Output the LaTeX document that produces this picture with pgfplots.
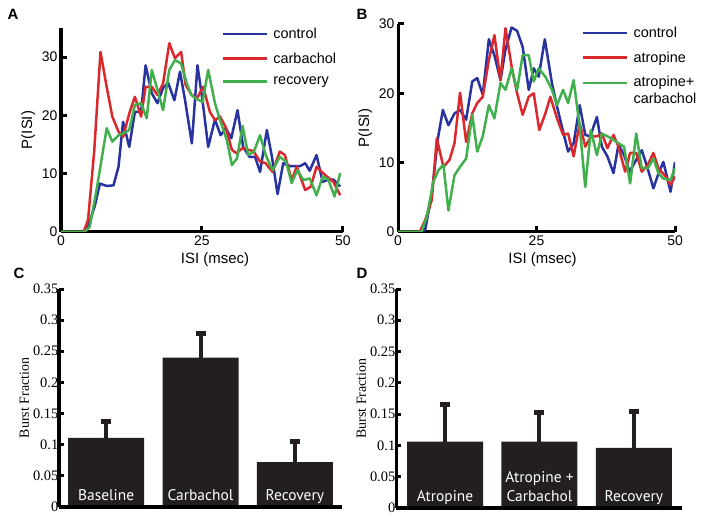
\documentclass[border=0pt]{standalone}
\usepackage{pgfplots}
\pgfplotsset{compat=1.18}
\usepackage{fontspec}
\setmainfont{Liberation Sans}
\newfontfamily\serif{Liberation Serif}
\newfontfamily\barfont{PT Sans}

\definecolor{cblue}{RGB}{40,50,160}
\definecolor{cred}{RGB}{218,40,45}
\definecolor{cgreen}{RGB}{65,175,75}
\definecolor{barblack}{RGB}{35,31,32}

\pgfplotsset{
  histo/.style={
    scale only axis,
    axis lines=left,
    axis line style={line width=3bp,-},
    xmin=0, xmax=50, ymin=0,
    xtick={0,25,50}, xticklabels={0,25,50},
    tick align=inside,
    major tick length=6bp,
    every tick/.style={black, line width=3bp},
    ticklabel style={font=\fontsize{14}{16}\selectfont},
    label style={font=\fontsize{15}{17}\selectfont},
    xlabel={ISI (msec)}, ylabel={P(ISI)},
    every axis plot/.append style={line width=2.5bp, line join=round, no marks},
    legend style={draw=none, fill=none, inner sep=0pt,
      font=\fontsize{14.5}{17}\selectfont, row sep=8.5bp, column sep=3bp,
      nodes={align=left}},
    legend cell align=left,
    legend image code/.code={\draw[#1] (0bp,0bp) -- (44bp,0bp);},
  },
  raisedlegend/.style={legend image code/.code={\draw[##1] (0bp,7.5bp) -- (44bp,7.5bp);}},
  barax/.style={
    scale only axis,
    axis lines=left,
    axis on top,
    axis line style={line width=3bp,-},
    ymin=0, ymax=0.35,
    ytick={0,0.05,0.1,0.15,0.2,0.25,0.3,0.35},
    yticklabels={0,0.05,0.1,0.15,0.2,0.25,0.3,0.35},
    xtick={1,2,3},
    tick align=inside,
    major tick length=5bp,
    every tick/.style={black, line width=3bp},
    major x tick style={draw=none},
    yticklabel style={font=\serif\fontsize{14.5}{16}\selectfont, inner sep=0.5bp},
    ylabel={Burst Fraction},
    ylabel style={font=\serif\fontsize{14}{16}\selectfont},
    xticklabel style={font=\barfont\fontsize{15.5}{17}\selectfont, text=white,
      anchor=base, yshift=11.5bp, align=center},
    ybar, bar width=76bp,
  },
  errs/.style={fill=barblack, draw=none,
    error bars/.cd, y dir=plus, y explicit,
    error bar style={line width=4bp, barblack},
    error mark options={barblack, rotate=90, line width=5bp, mark size=5bp}},
}

\begin{document}
\begin{tikzpicture}
\useasboundingbox (0,0) rectangle (704bp,518bp);

% A
\begin{axis}[histo, at={(61bp,286bp)}, anchor=south west,
  width=282bp, height=204bp, ymax=35,
  ytick={0,10,20,30}, yticklabels={0,10,20,30},
  xlabel style={xshift=13bp},
  legend style={at={(0.57,1.01)}, anchor=north west}]
\addplot[cblue] coordinates {
(0,0)(4.0,0)(4.8,0.9)(6.0,4.5)(6.9,8.3)(8.1,7.9)(9.3,8.0)(10.2,11.2)(11.0,18.9)
(12.1,14.6)(13.1,20.6)(14.2,20.6)(15.0,28.6)(16.1,23.8)(17.1,22.1)(18.1,24.7)
(19.0,25.6)(20.1,22.6)(21.1,27.5)(22.0,22.6)(23.2,15.2)(24.2,28.6)(25.1,22.5)
(26.1,14.6)(27.3,19.3)(28.3,16.6)(29.2,17.8)(30.2,16.1)(31.3,20.9)(32.3,14.6)
(33.4,12.9)(34.4,12.9)(35.3,10.3)(36.5,17.5)(37.4,12.9)(38.4,6.5)(39.4,11.8)
(40.6,11.3)(42.4,11.3)(43.3,11.8)(44.1,10.5)(45.3,13.2)(46.4,8.6)(47.4,9.0)
(48.3,9.0)(49.5,7.8)};
\addlegendentry{control}
\addplot[cred] coordinates {
(0,0)(4.0,0)(4.8,2.1)(5.9,14)(7.0,30.9)(8.1,24.9)(9.1,19.8)(10.2,17.2)(11.0,16.3)
(12.1,20.3)(13.1,23.2)(14.2,19.8)(15.0,24.9)(16.1,24.9)(17.1,23.5)(18.1,25.5)
(19.2,32.4)(20.2,29.8)(21.3,30.9)(22.1,25.2)(23.2,23.5)(24.1,22.9)(25.2,24.9)
(26.4,20.6)(27.3,19.2)(28.2,19.8)(29.2,18.0)(30.3,14.1)(31.1,13.5)(32.2,14.4)
(33.2,14.1)(34.1,13.9)(35.3,12.1)(36.3,11.8)(37.5,10.3)(38.8,13.8)(39.7,13.2)
(40.9,8.9)(41.8,11.2)(43.3,7.2)(44.3,7.8)(45.3,11.2)(46.8,9.8)(48.3,8.6)(49.5,6.3)};
\addlegendentry{carbachol}
\addplot[cgreen] coordinates {
(0,0)(4.2,0)(5.1,0.9)(6.3,7.2)(8.1,17.8)(9.1,15.5)(10.2,16.6)(11.0,16.9)(12.1,17.5)
(13.1,21.8)(14.2,22.1)(15.2,19.5)(16.1,27.8)(17.1,24.4)(18.1,20.9)(19.2,27.8)
(20.2,29.5)(21.3,28.9)(22.3,25.5)(23.1,23.5)(24.1,22.8)(25.1,22.3)(26.1,27.8)
(27.3,22.1)(28.2,19.2)(29.4,15.8)(30.3,11.5)(31.2,12.6)(32.2,18.2)(33.2,13.2)
(34.2,13.8)(35.3,16.6)(36.3,13.2)(37.5,10.6)(38.8,12.9)(39.9,12.1)(40.9,8.4)
(41.9,10.6)(43.0,8.9)(44.1,9.2)(45.3,6.3)(46.4,9.5)(47.4,9.0)(48.5,6.1)(49.5,10.1)};
\addlegendentry{recovery}
\end{axis}

% B
\begin{axis}[histo, at={(398bp,286bp)}, anchor=south west,
  width=277bp, height=208bp, ymax=30,
  ytick={0,10,20,30}, yticklabels={0,10,20,30},
  xlabel style={xshift=6bp},
  legend style={at={(0.664,0.995)}, anchor=north west}]
\addplot[cblue] coordinates {
(0,0)(4.0,0)(4.9,0.3)(6.1,5.5)(7.2,13.5)(8.1,17.6)(9.1,15.4)(10.2,17.1)(11.2,17.6)
(12.3,16.2)(13.4,21.7)(14.3,22.2)(15.3,19.8)(16.4,27.8)(17.4,25.5)(18.5,21.9)
(19.4,26.3)(20.5,29.5)(21.5,29.0)(22.5,26.7)(23.6,20.5)(24.5,23.6)(25.4,22.4)
(26.5,27.8)(27.8,21.4)(28.7,18.1)(29.8,14.5)(30.7,11.6)(31.7,12.8)(32.8,18.3)
(33.8,14.0)(34.7,13.8)(35.9,16.6)(36.8,12.3)(37.8,10.9)(38.9,8.5)(39.8,12.6)
(40.8,11.1)(41.8,8.7)(43.0,10.4)(44.0,11.8)(44.9,9.6)(46.1,6.3)(47.0,8.4)
(47.9,10.1)(49.2,5.8)(50.0,10.1)};
\addlegendentry{control}
\addplot[cred] coordinates {
(0,0)(3.9,0)(4.9,1.7)(6.1,4.6)(7.0,13.5)(8.2,9.4)(9.3,10.4)(10.2,12.8)(11.2,20.1)
(12.3,13.0)(13.4,17.1)(14.3,18.6)(15.3,19.5)(16.4,24.8)(17.4,28.4)(18.5,21.9)
(19.4,29.4)(20.5,23.9)(21.5,20.0)(22.5,16.9)(23.6,19.5)(24.5,20.0)(25.5,14.7)
(26.6,17.1)(27.5,19.5)(28.7,16.4)(29.8,14.0)(30.7,14.2)(31.7,10.9)(32.8,15.7)
(33.8,12.3)(34.8,13.8)(35.9,13.8)(36.8,14.2)(37.8,12.1)(38.9,14.0)(39.8,12.3)
(41.0,8.7)(41.9,11.4)(43.0,11.4)(44.0,8.7)(45.1,9.7)(46.1,11.4)(47.0,9.2)
(48.3,8.0)(49.2,6.8)(50.0,8.0)};
\addlegendentry{atropine}
\addplot[cgreen, raisedlegend] coordinates {
(0,0)(4.2,0)(5.2,2.2)(6.4,7.3)(7.3,8.9)(8.2,9.7)(9.1,3.1)(10.2,8.2)(11.2,9.4)
(12.3,10.6)(13.4,16.9)(14.3,11.6)(15.3,13.8)(16.4,18.3)(17.4,16.4)(18.5,21.5)
(19.4,20.5)(20.5,23.6)(21.5,20.5)(22.5,25.5)(23.6,25.5)(24.5,21.7)(25.4,23.6)
(26.6,22.4)(27.8,20.5)(28.7,18.3)(29.8,20.5)(30.7,18.6)(31.7,21.9)(32.8,15.2)
(33.8,6.5)(34.8,14.7)(35.9,11.1)(36.8,14.2)(37.8,13.8)(38.9,13.3)(39.8,12.8)
(40.8,12.3)(41.9,7.0)(43.0,14.2)(44.0,9.2)(45.1,9.2)(46.1,10.6)(47.0,8.5)
(47.9,7.7)(49.2,7.5)(50.0,9.2)};
\addlegendentry{atropine+\\carbachol}
\end{axis}

% C
\begin{axis}[barax, at={(59bp,11bp)}, anchor=south west,
  width=283bp, height=218bp, xmin=0.5, xmax=3.5,
  xticklabels={Baseline,Carbachol,Recovery}]
\addplot[errs] coordinates {
(1,0.111) +- (0,0.026)
(2,0.240) +- (0,0.038)
(3,0.072) +- (0,0.033)};
\end{axis}

% D
\begin{axis}[barax, at={(396bp,10bp)}, anchor=south west,
  width=286bp, height=219bp, xmin=0.48, xmax=3.51,
  xticklabels={Atropine,{Atropine +\\[2.5bp]Carbachol},Recovery}]
\addplot[errs] coordinates {
(1,0.106) +- (0,0.059)
(2,0.106) +- (0,0.046)
(3,0.096) +- (0,0.058)};
\end{axis}

\node[font=\bfseries\fontsize{15}{15}\selectfont] at (13bp,504bp) {A};
\node[font=\bfseries\fontsize{15}{15}\selectfont] at (362bp,504bp) {B};
\node[font=\bfseries\fontsize{15}{15}\selectfont] at (19bp,245bp) {C};
\node[font=\bfseries\fontsize{15}{15}\selectfont] at (362bp,245bp) {D};
\end{tikzpicture}
\end{document}
